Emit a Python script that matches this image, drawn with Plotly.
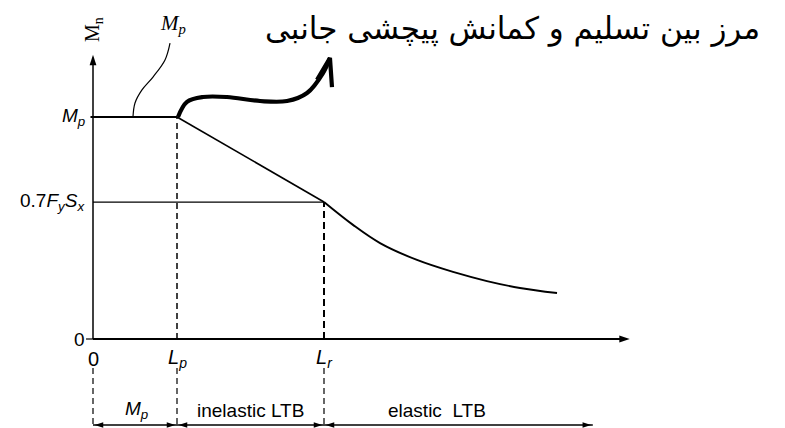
import plotly.graph_objects as go

# ---- data (conceptual units: x in unbraced length, y in moment, Mp = 1) ----
Lp = 1.0
Lr = 2.75
Mp = 1.0
Mr = 0.617
x_axis_end = 6.39
y_axis_end = 1.28

# plateau + inelastic segment
plateau_x = [-0.03, Lp]
plateau_y = [Mp, Mp]
inelastic_x = [Lp, Lr]
inelastic_y = [Mp, Mr]

# elastic LTB curve
elastic_x = [2.75, 3.095, 3.417, 3.857, 4.286, 4.690, 5.083, 5.524]
elastic_y = [0.617, 0.514, 0.432, 0.356, 0.302, 0.261, 0.230, 0.207]

# leader line for the Mp label
leader_x = [0.917, 0.857, 0.714, 0.583, 0.500, 0.476]
leader_y = [1.333, 1.257, 1.180, 1.122, 1.063, 1.0]

# thick curved arrow pointing to the note
note_x = [1.012, 1.119, 1.310, 1.595, 1.988, 2.310, 2.548, 2.738, 2.821]
note_y = [1.0, 1.068, 1.090, 1.090, 1.072, 1.072, 1.108, 1.198, 1.266]
note_head_x = [2.667, 2.821, 2.845]
note_head_y = [1.167, 1.266, 1.135]

# dimension row
dim_level = -0.387
dim_top = -0.131
dim_bounds = [0.0, Lp, Lr, 5.95]
dim_labels = ["<i>M<sub>p</sub></i>", "inelastic LTB", "elastic  LTB"]
dim_label_x = [0.52, 1.87, 4.1]
dim_label_y = -0.32

x_tick_vals = [0.0, Lp, Lr]
x_tick_text = ["0", "<i>L<sub>p</sub></i>", "<i>L<sub>r</sub></i>"]
y_tick_vals = [0.0, Mr, Mp]
y_tick_text = ["0", "0.7<i>F<sub>y</sub>S<sub>x</sub></i>", "<i>M<sub>p</sub></i>"]

note_text = "مرز بین تسلیم و کمانش پیچشی جانبی"

# ---- figure ----
W, H = 785, 428
x0px, xscale = 93, 84.0
y0px, yscale = 339, 222.0
xr = [-x0px / xscale, (W - x0px) / xscale]
yr = [(y0px - H) / yscale, y0px / yscale]

fig = go.Figure()
blk = "black"

def line(x, y, width=1.5, dash="solid", shape="linear"):
    fig.add_trace(go.Scatter(x=x, y=y, mode="lines", hoverinfo="skip",
                             line=dict(color=blk, width=width, dash=dash, shape=shape)))

def heads(x, y, angles, size):
    fig.add_trace(go.Scatter(x=x, y=y, mode="markers", hoverinfo="skip",
                             marker=dict(symbol="arrow", angle=angles, size=size, color=blk,
                                         line=dict(width=0))))

# axes
line([0.0, 0.0], [0.0, y_axis_end - 0.02], 1.5)
line([0.0, x_axis_end - 0.05], [0.0, 0.0], 1.8)
heads([0.0], [y_axis_end], [0], 11)
heads([x_axis_end], [0.0], [90], 11)

line(plateau_x, plateau_y, 2.2)
line(inelastic_x, inelastic_y, 1.6)
line(elastic_x, elastic_y, 1.9, shape="spline")
line([0.0, Lr], [Mr, Mr], 1.3)
line([Lp, Lp], [0.0, Mp], 1.5, dash="6px,4px")
line([Lr, Lr], [0.0, Mr], 2.0, dash="7px,4px")
line(leader_x, leader_y, 1.2, shape="spline")
line(note_x, note_y, 4.2, shape="spline")
line(note_head_x, note_head_y, 4.2)
line([-0.083, 0.0], [0.0, 0.0], 1.2)

for xb in dim_bounds[:3]:
    line([xb, xb], [dim_top, dim_level], 1.2, dash="6px,4px")

# dimension arrows
line([dim_bounds[0], dim_bounds[-1]], [dim_level, dim_level], 1.5)
left_ends = [b + 0.02 for b in dim_bounds[:-1]]
right_ends = [b - 0.02 for b in dim_bounds[1:]]
heads(left_ends + right_ends, [dim_level] * (len(left_ends) + len(right_ends)),
      [270] * len(left_ends) + [90] * len(right_ends), 9)

sans = "Liberation Sans, Arial, sans-serif"
serif = "Liberation Serif, Times New Roman, serif"

for xv, t in zip(x_tick_vals, x_tick_text):
    fig.add_annotation(x=xv, y=-0.09, text=t, showarrow=False, xanchor="center", yanchor="middle",
                       font=dict(family=sans, size=20, color=blk))
for yv, t in zip(y_tick_vals, y_tick_text):
    fig.add_annotation(x=-0.07, y=yv, text=t, showarrow=False, xanchor="right", yanchor="middle",
                       font=dict(family=sans, size=19, color=blk))
for xv, t in zip(dim_label_x, dim_labels):
    fig.add_annotation(x=xv, y=dim_label_y, text=t, showarrow=False, xanchor="center", yanchor="middle",
                       font=dict(family=sans, size=19, color=blk))

fig.add_annotation(x=0.012, y=1.392, text="M<sub>n</sub>", textangle=-90, showarrow=False,
                   font=dict(family=serif, size=20, color=blk))
fig.add_annotation(x=0.952, y=1.419, text="<i>M<sub>p</sub></i>", showarrow=False,
                   font=dict(family=serif, size=21, color=blk))
fig.add_annotation(x=(263 - x0px) / xscale, y=1.40, text=note_text, showarrow=False,
                   xanchor="left", yanchor="middle",
                   font=dict(family="DejaVu Sans, sans-serif", size=31, color=blk))

fig.update_layout(
    width=W, height=H, margin=dict(l=0, r=0, t=0, b=0),
    paper_bgcolor="white", plot_bgcolor="white", showlegend=False,
    xaxis=dict(range=xr, visible=False, fixedrange=True),
    yaxis=dict(range=yr, visible=False, fixedrange=True),
)
fig.write_html("out.html", config={"displayModeBar": False},
               post_script="document.body.style.margin='0px';document.body.style.overflow='hidden';")
